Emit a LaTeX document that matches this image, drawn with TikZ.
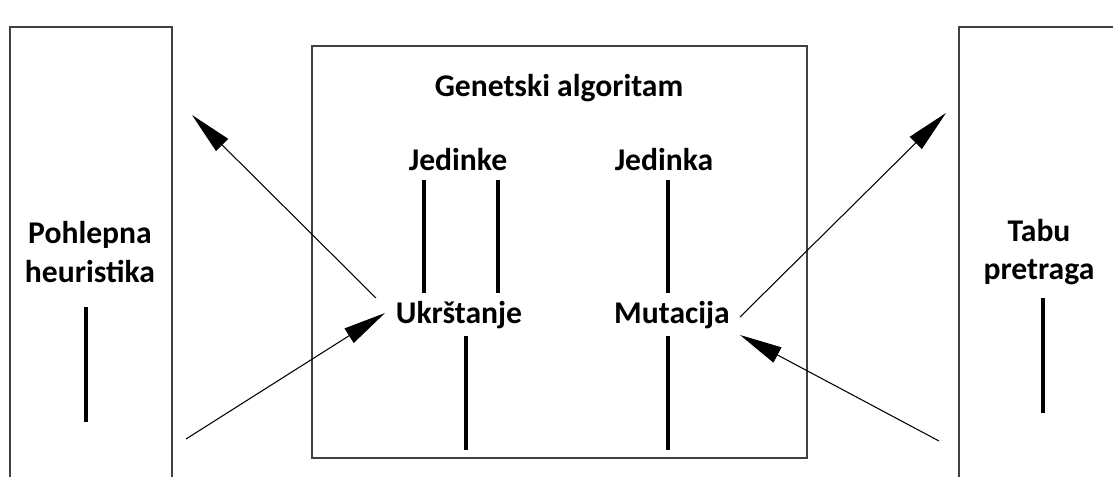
\documentclass[tikz,border=0pt]{standalone}
\usepackage{fontspec}
\setmainfont{Carlito}
\usetikzlibrary{positioning,arrows.meta}

\begin{document}
\begin{tikzpicture}[x=0.02cm, y=-0.02cm,
  label/.style={font=\bfseries\fontsize{18}{22}\selectfont, align=center, inner sep=1pt},
  frame/.style={draw=black!75, line width=0.8pt},
  bar/.style={line width=2.4pt},
  arrow/.style={-{Triangle[length=0.85cm,width=0.34cm]}, line width=0.6pt}
]
\useasboundingbox (0,0) rectangle (1113,477);
\clip (0,0) rectangle (1113,477);

% Frames
\draw[frame] (10,27) rectangle (172,520);
\draw[frame] (312,46) rectangle (807,458);
\draw[frame] (959,27) rectangle (1160,520);

% Labels
\node[label] (greedy) at (90,252) {Pohlepna\\heuristika};
\node[label] (tabu) at (1039,252) {Tabu\\pretraga};
\node[label] (ga) at (559,88) {Genetski algoritam};
\node[label] (parents) at (458,160) {Jedinke};
\node[label] (single) at (664,160) {Jedinka};
\node[label] (cross) at (459,315) {Ukrštanje};
\node[label] (mut) at (672,315) {Mutacija};

% Line ends
\coordinate (g1) at (86,307);  \coordinate (g2) at (86,422);
\coordinate (t1) at (1043,298); \coordinate (t2) at (1043,413);
\coordinate (p1) at (424,180); \coordinate (c1) at (424,293);
\coordinate (p2) at (498,180); \coordinate (c2) at (498,293);
\coordinate (s1) at (668,180); \coordinate (m1) at (668,293);
\coordinate (c3) at (466,336); \coordinate (c4) at (466,450);
\coordinate (m2) at (668,336); \coordinate (m3) at (668,450);

% Bars
\draw[bar] (g1) -- (g2);
\draw[bar] (t1) -- (t2);
\draw[bar] (p1) -- (c1);
\draw[bar] (p2) -- (c2);
\draw[bar] (s1) -- (m1);
\draw[bar] (c3) -- (c4);
\draw[bar] (m2) -- (m3);

% Arrows
\coordinate (crossout) at (376,298); \coordinate (crossin) at (385,313);
\coordinate (mutout) at (740,317);   \coordinate (mutin) at (740,335);
\coordinate (greedyin) at (192,115); \coordinate (greedyout) at (186,439);
\coordinate (tabuin) at (946,113);   \coordinate (tabuout) at (939,441);
\draw[arrow] (crossout) -- (greedyin);
\draw[arrow] (greedyout) -- (crossin);
\draw[arrow] (mutout) -- (tabuin);
\draw[arrow] (tabuout) -- (mutin);

\end{tikzpicture}
\end{document}
